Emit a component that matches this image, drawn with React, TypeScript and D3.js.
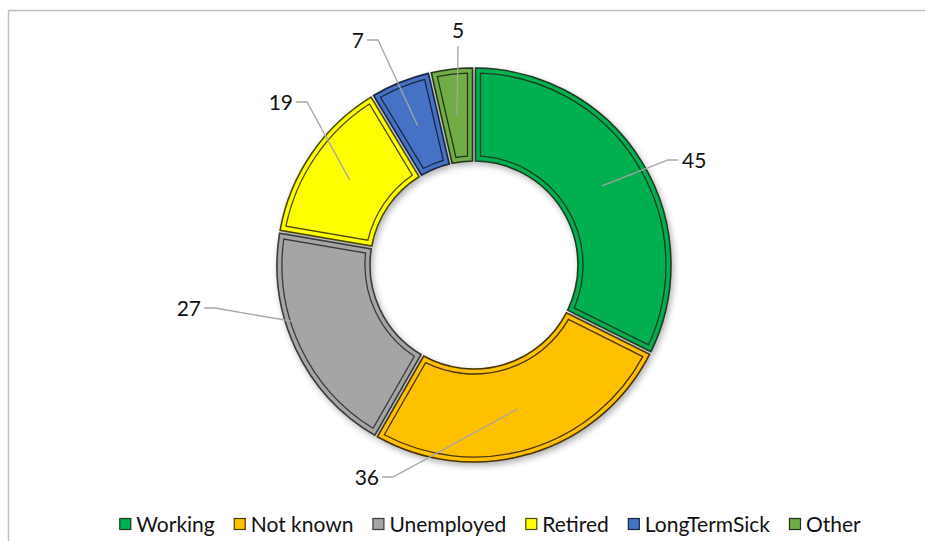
import React, { useEffect, useRef } from "react";
import * as d3 from "d3";

const categories = ["Working", "Not known", "Unemployed", "Retired", "LongTermSick", "Other"];
const values = [45, 36, 27, 19, 7, 5];
const colors = ["#00B050", "#FFC000", "#A5A5A5", "#FFFF00", "#4472C4", "#70AD47"];
const outlineColors = ["#1c3a22", "#4a3500", "#3a3a3a", "#4a4a00", "#1a2640", "#22351a"];
// label line end points relative to the donut centre, and which side the text sits on
const labelOffsets: [number, number, string][] = [
  [204, -105, "right"],
  [-92, 212, "left"],
  [-270, 43, "left"],
  [-178, -163, "left"],
  [-107, -225, "left"],
  [-16, -219, "up"],
];

const W = 925;
const H = 541;
const FONT = "Lato, 'Open Sans', sans-serif";

export default function App() {
  const ref = useRef<SVGSVGElement | null>(null);

  useEffect(() => {
    const svg = d3.select(ref.current);
    svg.selectAll("*").remove();

    const cx = 474;
    const cy = 265;
    const rOuter = 197;
    const rInner = 104;
    const bandW = 5;

    const defs = svg.append("defs");
    const f = defs.append("filter").attr("id", "shadow").attr("x", "-20%").attr("y", "-20%").attr("width", "140%").attr("height", "140%");
    f.append("feDropShadow").attr("dx", 2).attr("dy", 3).attr("stdDeviation", 3).attr("flood-color", "#000").attr("flood-opacity", 0.3);

    // frame
    svg.append("line").attr("x1", 8).attr("x2", W).attr("y1", 10.5).attr("y2", 10.5).attr("stroke", "#bfbfbf").attr("stroke-width", 1.5);
    svg.append("line").attr("x1", 8.5).attr("x2", 8.5).attr("y1", 10).attr("y2", H).attr("stroke", "#bfbfbf").attr("stroke-width", 1.5);

    const pie = d3.pie<number>().sort(null).value((d) => d);
    const arcs = pie(values);

    const outerArc = d3.arc<d3.PieArcDatum<number>>()
      .innerRadius(rInner).outerRadius(rOuter).padRadius(100).padAngle(0.03);
    const innerLineArc = d3.arc<d3.PieArcDatum<number>>()
      .innerRadius(rInner + bandW).outerRadius(rOuter - bandW).padRadius(100).padAngle(0.03 + (2 * bandW) / 100);
    const centroidArc = d3.arc<d3.PieArcDatum<number>>().innerRadius(rInner).outerRadius(rOuter);

    const g = svg.append("g").attr("transform", `translate(${cx},${cy})`);
    const slices = g.append("g").attr("filter", "url(#shadow)");
    slices.selectAll("path.slice").data(arcs).enter().append("path")
      .attr("class", "slice")
      .attr("d", (d) => outerArc(d) as string)
      .attr("fill", (_, i) => colors[i])
      .attr("stroke", (_, i) => outlineColors[i])
      .attr("stroke-width", 1.6);
    g.selectAll("path.inner").data(arcs).enter().append("path")
      .attr("class", "inner")
      .attr("d", (d) => innerLineArc(d) as string)
      .attr("fill", "none")
      .attr("stroke", (_, i) => outlineColors[i])
      .attr("stroke-width", 1.3);

    // leader lines + labels
    arcs.forEach((d, i) => {
      const [c0, c1] = centroidArc.centroid(d);
      const [ex, ey, side] = labelOffsets[i];
      let pts: [number, number][];
      let tx: number, ty: number, anchor: string;
      if (side === "right") {
        pts = [[c0, c1], [ex - 10, ey], [ex, ey]];
        tx = ex + 4; ty = ey + 7.5; anchor = "start";
      } else if (side === "left") {
        pts = [[c0, c1], [ex + 11, ey], [ex, ey]];
        tx = ex - 3; ty = ey + 7.5; anchor = "end";
      } else {
        pts = [[c0, c1], [ex, ey]];
        tx = ex; ty = ey - 8; anchor = "middle";
      }
      g.append("path")
        .attr("d", d3.line()(pts) as string)
        .attr("fill", "none")
        .attr("stroke", "#a6a6a6")
        .attr("stroke-width", 1.3);
      g.append("text")
        .attr("x", tx).attr("y", ty)
        .attr("text-anchor", anchor)
        .attr("font-family", FONT)
        .attr("font-size", 21)
        .attr("fill", "#111")
        .text(String(values[i]));
    });

    // legend
    const lg = svg.append("g");
    const sq = 12;
    const gapText = 5;
    const gapItem = 19;
    const fs = 21;
    const items = categories.map((c, i) => {
      const t = lg.append("text").attr("font-family", FONT).attr("font-size", fs).attr("fill", "#111").text(c);
      const w = (t.node() as SVGTextElement).getComputedTextLength();
      return { t, w, i };
    });
    const total = items.reduce((s, it) => s + sq + gapText + it.w, 0) + gapItem * (items.length - 1);
    let x = 490 - total / 2;
    const ly = 524;
    items.forEach((it) => {
      lg.append("rect")
        .attr("x", x + 0.5).attr("y", ly - sq / 2 + 0.5)
        .attr("width", sq - 1).attr("height", sq - 1)
        .attr("fill", colors[it.i])
        .attr("stroke", outlineColors[it.i])
        .attr("stroke-width", 1.2);
      it.t.attr("x", x + sq + gapText).attr("y", ly + 7.5);
      x += sq + gapText + it.w + gapItem;
    });
  }, []);

  return (
    <svg
      ref={ref}
      width={W}
      height={H}
      style={{ position: "absolute", left: 0, top: 0, background: "#fff" }}
    />
  );
}
